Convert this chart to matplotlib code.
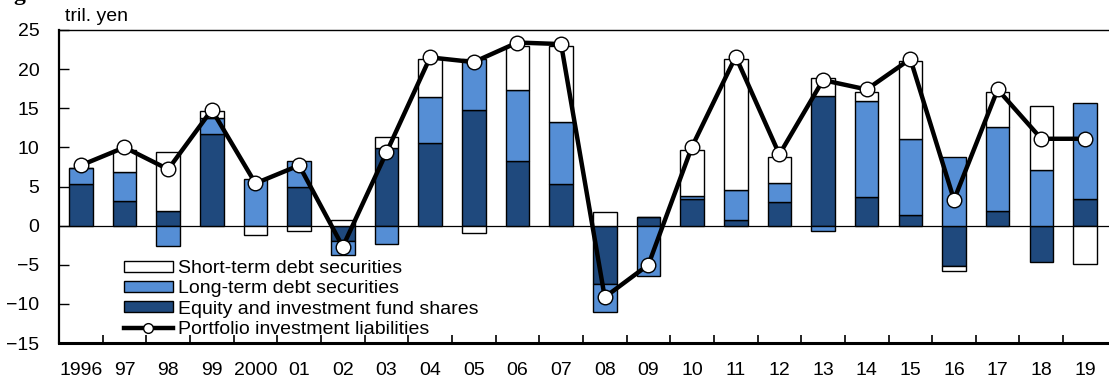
import numpy as np
import matplotlib
matplotlib.use("Agg")
import matplotlib.pyplot as plt
from matplotlib.lines import Line2D
from matplotlib.patches import Patch

plt.rcParams['font.family'] = ['Liberation Sans', 'DejaVu Sans']

years = ['1996', '97', '98', '99', '2000', '01', '02', '03', '04', '05', '06', '07',
         '08', '09', '10', '11', '12', '13', '14', '15', '16', '17', '18', '19']

equity = [5.3, 3.2, 1.9, 11.7, -0.1, 4.9, -2.0, 9.9, 10.5, 14.8, 8.3, 5.3,
          -7.4, 1.1, 3.4, 0.75, 3.0, 16.6, 3.65, 1.35, -5.1, 1.85, -4.7, 3.45]
long_term = [2.05, 3.7, -2.55, 2.0, 6.0, 3.4, -1.8, -2.3, 5.9, 6.5, 9.05, 7.9,
             -3.65, -6.45, 0.4, 3.85, 2.5, -0.7, 12.3, 9.75, 8.8, 10.8, 7.15, 12.25]
short_term = [0.0, 2.8, 7.5, 0.9, -1.1, -0.7, 0.7, 1.45, 4.9, -0.95, 5.55, 9.7,
              1.8, 0.0, 5.9, 16.7, 3.3, 2.3, 1.15, 9.95, -0.7, 4.45, 8.1, -4.85]
total = [7.7, 10.0, 7.2, 14.8, 5.4, 7.7, -2.7, 9.35, 21.5, 20.9, 23.4, 23.2,
         -9.15, -5.0, 10.1, 21.6, 9.1, 18.6, 17.4, 21.3, 3.3, 17.4, 11.1, 11.1]

DARK = '#1F497D'
LIGHT = '#558ED5'
FS = 14

fig = plt.figure(figsize=(11.09, 3.80), dpi=100)
ax = fig.add_axes([59 / 1109, 1 - 343 / 380, 1050 / 1109, (343 - 30) / 380])

x = np.arange(len(years))
pos_base = np.zeros(len(years))
neg_base = np.zeros(len(years))
for vals, color in [(equity, DARK), (long_term, LIGHT), (short_term, 'white')]:
    v = np.asarray(vals, dtype=float)
    bottom = np.where(v >= 0, pos_base, neg_base)
    ax.bar(x, v, bottom=bottom, width=0.54, color=color, edgecolor='black',
           linewidth=1.0, zorder=2)
    pos_base += np.where(v >= 0, v, 0)
    neg_base += np.where(v < 0, v, 0)

ax.axhline(0, color='black', linewidth=0.9, zorder=1)
ax.plot(x, total, color='black', linewidth=3.2, marker='o', markersize=10.5,
        markerfacecolor='white', markeredgecolor='black', markeredgewidth=1.0,
        zorder=3)

ax.set_xlim(-0.5, 23.5 + 0.05)
ax.set_ylim(-15, 25)
ax.set_yticks(np.arange(-15, 26, 5))
ax.set_xticks(x)
ax.set_xticklabels(years)
ax.set_xticks(np.arange(0.5, 23.0, 1.0), minor=True)

ax.tick_params(axis='x', which='major', length=0, pad=14, labelsize=FS)
ax.tick_params(axis='x', which='minor', direction='in', length=6, width=1.2)
ax.tick_params(axis='y', direction='in', length=7, width=1.0, pad=14,
               labelsize=FS)

ax.spines['right'].set_visible(False)
ax.spines['top'].set_linewidth(1.0)
ax.spines['left'].set_linewidth(1.6)
ax.spines['bottom'].set_linewidth(2.2)

# tail of the figure heading above the panel
fig.text(13 / 1109, 1.0, 'g', fontsize=17, fontweight='bold',
         family=['Liberation Serif', 'DejaVu Serif'], ha='left', va='baseline')

fig.text(65 / 1109, 1 - 21 / 380, 'tril. yen', fontsize=FS, ha='left',
         va='baseline')

handles = [
    Patch(facecolor='white', edgecolor='black', linewidth=1.0),
    Patch(facecolor=LIGHT, edgecolor='black', linewidth=1.0),
    Patch(facecolor=DARK, edgecolor='black', linewidth=1.0),
    Line2D([], [], color='black', linewidth=3.2, marker='o', markersize=7,
           markerfacecolor='white', markeredgecolor='black',
           markeredgewidth=1.0),
]
labels = ['Short-term debt securities', 'Long-term debt securities',
          'Equity and investment fund shares', 'Portfolio investment liabilities']
fig.legend(handles, labels, loc='upper left',
           bbox_to_anchor=(124 / 1109, 1 - 260 / 380), frameon=False,
           fontsize=FS, handlelength=2.5, handleheight=0.5,
           handletextpad=0.3, labelspacing=0.17, borderpad=0.0,
           borderaxespad=0.0)

fig.savefig('out.png', dpi=100)
